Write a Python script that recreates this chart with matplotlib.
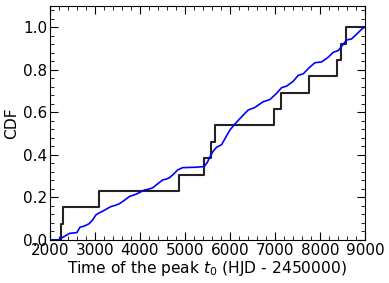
import numpy as np
import matplotlib
matplotlib.use('Agg')
import matplotlib.pyplot as plt
from matplotlib.ticker import MultipleLocator

# observed peak times (HJD - 2450000), empirical CDF
t_obs = [2244, 2280, 3096, 4867, 5430, 5570, 5674, 6978, 7141, 7756, 8370, 8474, 8578]

# model CDF
t_mod = [2000, 2185, 2280, 2370, 2433, 2520, 2600, 2667, 2770, 2874, 2950, 3022, 3100, 3170,
         3260, 3356, 3450, 3541, 3650, 3763, 3911, 4000, 4096, 4180, 4281, 4400, 4504, 4580,
         4652, 4750, 4837, 4948, 5100, 5244, 5430, 5500, 5556, 5630, 5704, 5815, 5900, 6000,
         6111, 6259, 6407, 6556, 6650, 6741, 6889, 7037, 7148, 7259, 7407, 7519, 7630, 7778,
         7889, 8037, 8185, 8296, 8407, 8519, 8593, 8704, 8815, 8926, 8985, 9000]
cdf_mod = [0.0, 0.0, 0.012, 0.023, 0.031, 0.033, 0.035, 0.06, 0.066, 0.077, 0.095, 0.118, 0.128, 0.135,
           0.146, 0.157, 0.163, 0.170, 0.186, 0.204, 0.215, 0.224, 0.235, 0.238, 0.245, 0.265, 0.282, 0.286,
           0.292, 0.31, 0.329, 0.340, 0.341, 0.342, 0.345, 0.366, 0.391, 0.418, 0.436, 0.448, 0.480, 0.517,
           0.545, 0.579, 0.611, 0.623, 0.637, 0.650, 0.660, 0.689, 0.716, 0.723, 0.746, 0.774, 0.781, 0.813,
           0.833, 0.837, 0.859, 0.882, 0.890, 0.92, 0.94, 0.945, 0.967, 0.99, 1.0, 1.0]

n = len(t_obs)
xs = [2000] + t_obs + [9000]
ys = [0] + [(i + 1) / n for i in range(n)] + [1.0]

fig = plt.figure(figsize=(3.89, 2.83), dpi=100)
ax = fig.add_axes([0.1285, 0.152, 0.8095, 0.827])

ax.step(xs, ys, where='post', color='#222222', lw=1.5)
ax.plot(t_mod, cdf_mod, color='#0000ff', lw=1.2)

ax.set_xlim(2000, 9000)
ax.set_ylim(0, 1.1)
ax.xaxis.set_major_locator(MultipleLocator(1000))
ax.xaxis.set_minor_locator(MultipleLocator(200))
ax.yaxis.set_major_locator(MultipleLocator(0.2))
ax.yaxis.set_minor_locator(MultipleLocator(0.04))
ax.tick_params(which='both', direction='in', top=True, right=True, labelsize=11, pad=2)
ax.tick_params(which='major', length=6, width=0.8)
ax.tick_params(which='minor', length=3, width=0.6)

ax.set_xlabel('Time of the peak $t_0$ (HJD - 2450000)', fontsize=11.2, labelpad=1)
ax.set_ylabel('CDF', fontsize=11.2, labelpad=3)

fig.savefig('out.png', dpi=100)
